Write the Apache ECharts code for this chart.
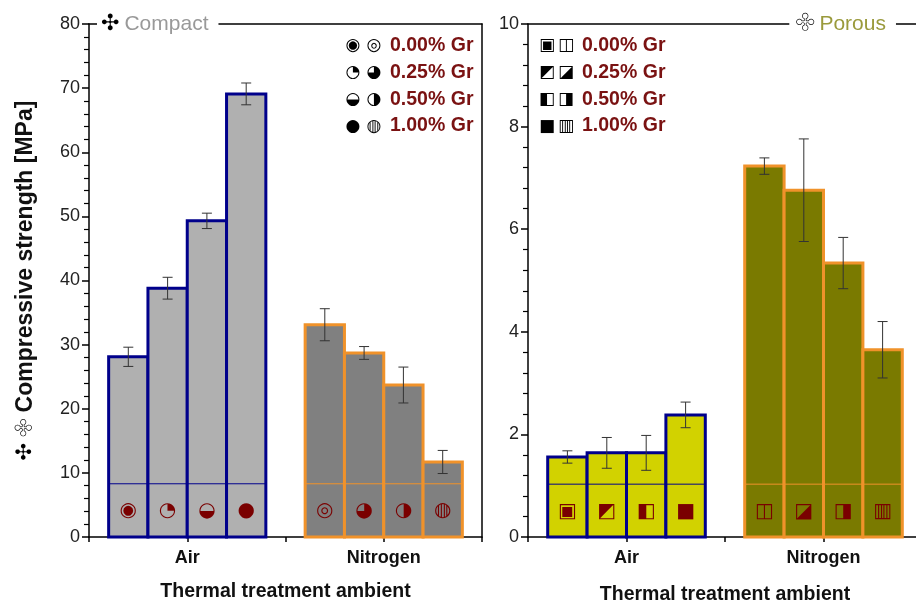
<!DOCTYPE html>
<html>
<head>
<meta charset="utf-8">
<script src="https://cdn.jsdelivr.net/npm/echarts@6/dist/echarts.min.js"></script>
<style>
  html, body { margin: 0; padding: 0; background: #fff; }
  #chart { width: 916px; height: 608px; }
</style>
</head>
<body>
<div id="chart"></div>
<script>
// 分组与柱位置
const groups = ['Air', 'Nitrogen']
const groupPos = [1, 3]
const barOffsets = [-0.6, -0.2, 0.2, 0.6]
const BAR_W = 0.4
const gradeLabels = ['0.00% Gr', '0.25% Gr', '0.50% Gr', '1.00% Gr']

// Compact (MPa)
const compactAir = [28.1, 38.8, 49.3, 69.1]
const compactAirErr = [1.5, 1.7, 1.2, 1.7]
const compactN2 = [33.1, 28.7, 23.7, 11.7]
const compactN2Err = [2.5, 1.0, 2.8, 1.8]

// Porous (MPa)
const porousAir = [1.56, 1.64, 1.64, 2.38]
const porousAirErr = [0.12, 0.3, 0.34, 0.25]
const porousN2 = [7.23, 6.76, 5.34, 3.65]
const porousN2Err = [0.16, 1.0, 0.5, 0.55]

// 符号
const compactAirMarks = ['◉', '◔', '◒', '●']
const compactN2Marks = ['◎', '◕', '◑', '◍']
const porousAirMarks = ['▣', '◩', '◧', '■']
const porousN2Marks = ['◫', '◪', '◨', '▥']

const NAVY = '#00008b'
const ORANGE = '#f0922a'
const MARK = '#7a0000'
const FONT = '"Liberation Sans", Arial, sans-serif'
const SYM_FONT = '"DejaVu Sans", sans-serif'

const chart = echarts.init(document.getElementById('chart'), null, { renderer: 'canvas' })

const rows = (vals, errs, g) => vals.map((v, i) => [groupPos[g] + barOffsets[i], v, errs[i]])

// 柱子 + 内部横线 + 符号
const barRender = (fill, stroke, lineVal, markVal, marks) => (params, api) => {
  const x = api.value(0)
  const v = api.value(1)
  const p0 = api.coord([x - BAR_W / 2, v])
  const p1 = api.coord([x + BAR_W / 2, 0])
  const ly = api.coord([x, lineVal])[1]
  const mp = api.coord([x, markVal])
  return {
    type: 'group',
    children: [
      { type: 'rect', shape: { x: p0[0], y: p0[1], width: p1[0] - p0[0], height: p1[1] - p0[1] },
        style: { fill: fill, stroke: stroke, lineWidth: 3 } },
      { type: 'line', shape: { x1: p0[0], y1: ly, x2: p1[0], y2: ly },
        style: { stroke: stroke, lineWidth: 1 } },
      { type: 'text', x: mp[0], y: mp[1],
        style: { text: marks[params.dataIndex], fill: MARK, font: '20px ' + SYM_FONT, align: 'center', verticalAlign: 'middle' } }
    ]
  }
}

// 误差线
const errRender = (params, api) => {
  const x = api.value(0)
  const v = api.value(1)
  const e = api.value(2)
  const hi = api.coord([x, v + e])
  const lo = api.coord([x, v - e])
  const st = { stroke: '#333', lineWidth: 1 }
  return {
    type: 'group',
    children: [
      { type: 'line', shape: { x1: hi[0], y1: hi[1], x2: lo[0], y2: lo[1] }, style: st },
      { type: 'line', shape: { x1: hi[0] - 5, y1: hi[1], x2: hi[0] + 5, y2: hi[1] }, style: st },
      { type: 'line', shape: { x1: lo[0] - 5, y1: lo[1], x2: lo[0] + 5, y2: lo[1] }, style: st }
    ]
  }
}

const xBottom = (gridIndex, gap) => ({
  type: 'value', gridIndex: gridIndex, min: 0, max: 4, interval: 1, position: 'bottom',
  axisLine: { lineStyle: { color: '#000', width: 1.5 } },
  axisTick: { length: 5, lineStyle: { color: '#000', width: 1.5 } },
  splitLine: { show: false },
  axisLabel: {
    margin: 12, fontSize: 18, fontWeight: 'bold', color: '#111', fontFamily: FONT,
    formatter: (val) => { const i = groupPos.indexOf(val); return i >= 0 ? groups[i] : '' }
  },
  name: 'Thermal treatment ambient', nameLocation: 'middle', nameGap: gap,
  nameTextStyle: { fontSize: 19.5, fontWeight: 'bold', color: '#111', fontFamily: FONT }
})

const frameAxis = (gridIndex, pos) => ({
  type: 'value', gridIndex: gridIndex, position: pos, min: 0, max: 1,
  axisLine: { show: true, onZero: false, lineStyle: { color: '#000', width: 1.5 } },
  axisTick: { show: false }, axisLabel: { show: false }, splitLine: { show: false }
})

const yLeft = (gridIndex, max, interval, name) => ({
  type: 'value', gridIndex: gridIndex, min: 0, max: max, interval: interval,
  axisLine: { show: true, lineStyle: { color: '#000', width: 1.5 } },
  axisTick: { show: true, length: 7, lineStyle: { color: '#000', width: 1.5 } },
  minorTick: { show: true, splitNumber: 5, length: 5, lineStyle: { color: '#000', width: 1.2 } },
  splitLine: { show: false },
  axisLabel: { fontSize: 18, color: '#222', fontFamily: FONT, margin: 9 },
  name: name || '',
  nameLocation: 'middle', nameGap: 52, nameRotate: 90,
  nameTextStyle: {
    fontSize: 23, fontWeight: 'bold', color: '#111', fontFamily: FONT,
    rich: {
      a: { fontSize: 21, color: '#000', fontFamily: SYM_FONT },
      b: { fontSize: 21, color: '#fff', textBorderColor: '#000', textBorderWidth: 1.4, fontFamily: SYM_FONT },
      c: { fontSize: 23, fontWeight: 'bold', color: '#111', fontFamily: FONT }
    }
  }
})

// 图例（文字）
const legendItems = (x1, x2, xt, marksA, marksN) => {
  const out = []
  gradeLabels.forEach((lab, i) => {
    const y = 46 + i * 26.7
    out.push({ type: 'text', x: x1, y: y, style: { text: marksA[i], font: '17px ' + SYM_FONT, fill: '#000', align: 'center', verticalAlign: 'middle' } })
    out.push({ type: 'text', x: x2, y: y, style: { text: marksN[i], font: '17px ' + SYM_FONT, fill: '#000', align: 'center', verticalAlign: 'middle' } })
    out.push({ type: 'text', x: xt, y: y, style: { text: lab, font: 'bold 19.5px ' + FONT, fill: '#7a1212', align: 'left', verticalAlign: 'middle' } })
  })
  return out
}

const option = {
  animation: false,
  backgroundColor: '#fff',
  title: [
    {
      text: '{s|✣} {t|Compact}', left: 97, top: 11, padding: [2, 10, 2, 4], backgroundColor: '#fff',
      textStyle: { rich: {
        s: { fontSize: 22, color: '#000', fontFamily: SYM_FONT },
        t: { fontSize: 21, fontWeight: 'normal', color: '#999', fontFamily: FONT }
      } }
    },
    {
      text: '{s|✣} {t|Porous}', left: 790, top: 11, padding: [2, 10, 2, 6], backgroundColor: '#fff',
      textStyle: { rich: {
        s: { fontSize: 22, color: '#fff', textBorderColor: '#000', textBorderWidth: 1.4, fontFamily: SYM_FONT },
        t: { fontSize: 21, fontWeight: 'normal', color: '#9a9a3c', fontFamily: FONT }
      } }
    }
  ],
  grid: [
    { left: 89, top: 24, width: 393, height: 513, outerBoundsMode: 'none' },
    { left: 528, top: 24, width: 394, height: 513, outerBoundsMode: 'none' }
  ],
  xAxis: [xBottom(0, 45), frameAxis(0, 'top'), xBottom(1, 48), frameAxis(1, 'top')],
  yAxis: [
    yLeft(0, 80, 10, '{a|✣} {b|✣} {c|Compressive strength [MPa]}'),
    frameAxis(0, 'right'),
    yLeft(1, 10, 2, '')
  ],
  graphic: [].concat(
    legendItems(353, 374, 390, compactAirMarks, compactN2Marks),
    legendItems(547, 566, 582, porousAirMarks, porousN2Marks)
  ),
  series: [
    { type: 'custom', xAxisIndex: 0, yAxisIndex: 0, data: rows(compactAir, compactAirErr, 0), z: 2,
      renderItem: barRender('#b0b0b0', NAVY, 8.3, 4.05, compactAirMarks) },
    { type: 'custom', xAxisIndex: 0, yAxisIndex: 0, data: rows(compactN2, compactN2Err, 1), z: 2,
      renderItem: barRender('#808080', ORANGE, 8.3, 4.05, compactN2Marks) },
    { type: 'custom', xAxisIndex: 2, yAxisIndex: 2, data: rows(porousAir, porousAirErr, 0), z: 2,
      renderItem: barRender('#d2d200', NAVY, 1.03, 0.5, porousAirMarks) },
    { type: 'custom', xAxisIndex: 2, yAxisIndex: 2, data: rows(porousN2, porousN2Err, 1), z: 2,
      renderItem: barRender('#7a7a00', ORANGE, 1.03, 0.5, porousN2Marks) },
    { type: 'custom', xAxisIndex: 0, yAxisIndex: 0, data: rows(compactAir, compactAirErr, 0), z: 5, renderItem: errRender },
    { type: 'custom', xAxisIndex: 0, yAxisIndex: 0, data: rows(compactN2, compactN2Err, 1), z: 5, renderItem: errRender },
    { type: 'custom', xAxisIndex: 2, yAxisIndex: 2, data: rows(porousAir, porousAirErr, 0), z: 5, renderItem: errRender },
    { type: 'custom', xAxisIndex: 2, yAxisIndex: 2, data: rows(porousN2, porousN2Err, 1), z: 5, renderItem: errRender }
  ]
}

chart.setOption(option)
window.addEventListener('resize', () => chart.resize())
</script>
</body>
</html>
